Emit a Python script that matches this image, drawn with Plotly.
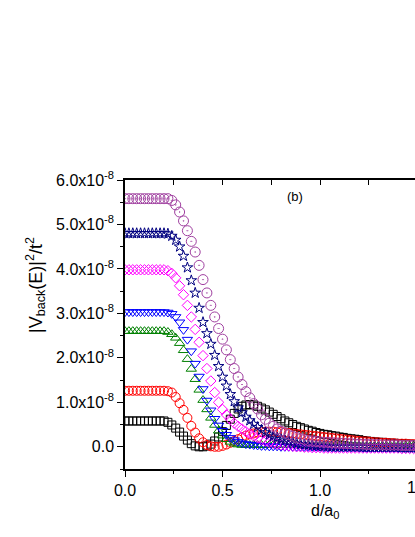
import numpy as np
import plotly.graph_objects as go

# d/a0 grid (step 0.02)
d_a0 = np.round(np.arange(0, 1.5001, 0.02), 2)

# |V_back(E)|^2/t^2 values, in units of 1e-8
black_sq = [0.58, 0.58, 0.58, 0.58, 0.58, 0.58, 0.58, 0.58, 0.58, 0.58, 0.58,
            0.55, 0.49, 0.42, 0.33, 0.24, 0.15, 0.07, 0.02, 0.00, 0.00,
            0.02, 0.06, 0.13, 0.22, 0.34, 0.48, 0.62, 0.75, 0.85, 0.91,
            0.94, 0.95, 0.94, 0.91, 0.87, 0.83, 0.78, 0.73, 0.68, 0.63,
            0.58, 0.54, 0.50, 0.46, 0.43, 0.40, 0.37, 0.35, 0.32, 0.30,
            0.28, 0.27, 0.25, 0.24, 0.22, 0.21, 0.19, 0.18, 0.17, 0.16,
            0.14, 0.13, 0.12, 0.11, 0.10, 0.10, 0.09, 0.08, 0.08, 0.07,
            0.07, 0.06, 0.06, 0.05, 0.05]
red_circ = [1.26, 1.26, 1.26, 1.26, 1.26, 1.26, 1.26, 1.26, 1.26, 1.26, 1.26,
            1.25, 1.22, 1.12, 0.98, 0.83, 0.65, 0.47, 0.32, 0.19, 0.10,
            0.04, 0.01, 0.00, 0.00, 0.02, 0.05, 0.09, 0.13, 0.17, 0.21,
            0.25, 0.28, 0.30, 0.32, 0.33, 0.34, 0.34, 0.34, 0.33, 0.33,
            0.32, 0.31, 0.30, 0.29, 0.28, 0.27, 0.26, 0.25, 0.24, 0.23,
            0.22, 0.21, 0.20, 0.19, 0.18, 0.17, 0.16, 0.15, 0.14, 0.13,
            0.12, 0.12, 0.11, 0.10, 0.10, 0.09, 0.09, 0.08, 0.08, 0.07,
            0.07, 0.07, 0.06, 0.06, 0.06]
green_tri = [2.60, 2.60, 2.60, 2.60, 2.60, 2.60, 2.60, 2.60, 2.60, 2.60, 2.60,
             2.58, 2.53, 2.45, 2.33, 2.17, 1.97, 1.75, 1.52, 1.28, 1.05,
             0.84, 0.65, 0.49, 0.36, 0.25, 0.17, 0.11, 0.07, 0.05, 0.04,
             0.04, 0.04, 0.04, 0.04, 0.04, 0.04, 0.04, 0.04, 0.04, 0.04,
             0.04, 0.04, 0.04, 0.04, 0.03, 0.03, 0.03, 0.03, 0.03, 0.03,
             0.03, 0.03, 0.03, 0.03, 0.03, 0.03, 0.03, 0.03, 0.03, 0.03,
             0.02, 0.02, 0.02, 0.02, 0.02, 0.02, 0.02, 0.02, 0.02, 0.02,
             0.02, 0.02, 0.02, 0.02, 0.02]
blue_tri = [3.03, 3.03, 3.03, 3.03, 3.03, 3.03, 3.03, 3.03, 3.03, 3.03, 3.03,
            3.02, 2.99, 2.92, 2.80, 2.63, 2.41, 2.15, 1.87, 1.58, 1.30,
            1.04, 0.82, 0.63, 0.48, 0.36, 0.27, 0.20, 0.15, 0.11, 0.08,
            0.06, 0.05, 0.04, 0.03, 0.02, 0.02, 0.01, 0.01, 0.01, 0.00,
            0.00, 0.00, 0.00, 0.00, 0.00, 0.00, 0.00, 0.00, 0.00, 0.00,
            -0.01, -0.01, -0.01, -0.01, -0.01, -0.01, -0.01, -0.01, -0.01, -0.01,
            -0.02, -0.02, -0.02, -0.02, -0.02, -0.02, -0.02, -0.02, -0.02, -0.02,
            -0.02, -0.02, -0.02, -0.02, -0.02]
magenta_dia = [3.98, 3.98, 3.98, 3.98, 3.98, 3.98, 3.98, 3.98, 3.98, 3.98, 3.98,
               3.96, 3.90, 3.80, 3.62, 3.42, 3.18, 2.92, 2.64, 2.35, 2.05,
               1.76, 1.48, 1.22, 1.00, 0.84, 0.72, 0.62, 0.53, 0.46, 0.40,
               0.34, 0.29, 0.24, 0.20, 0.16, 0.13, 0.10, 0.08, 0.06, 0.04,
               0.03, 0.02, 0.01, 0.00, 0.00, -0.01, -0.01, -0.02, -0.02, -0.02,
               -0.03, -0.03, -0.03, -0.03, -0.03, -0.03, -0.03, -0.03, -0.03, -0.03,
               -0.03, -0.03, -0.03, -0.03, -0.03, -0.03, -0.03, -0.03, -0.03, -0.03,
               -0.04, -0.04, -0.04, -0.04, -0.04]
navy_star = [4.80, 4.80, 4.80, 4.80, 4.80, 4.80, 4.80, 4.80, 4.80, 4.80, 4.80,
             4.79, 4.74, 4.65, 4.50, 4.29, 4.03, 3.74, 3.46, 3.12, 2.80,
             2.55, 2.31, 2.06, 1.81, 1.57, 1.37, 1.18, 1.02, 0.88, 0.77,
             0.67, 0.59, 0.51, 0.44, 0.38, 0.32, 0.27, 0.23, 0.20, 0.17,
             0.14, 0.12, 0.10, 0.08, 0.06, 0.05, 0.04, 0.03, 0.02, 0.02,
             0.01, 0.01, 0.00, 0.00, 0.00, 0.00, 0.00, 0.00, 0.00, 0.00,
             -0.01, -0.01, -0.01, -0.01, -0.01, -0.01, -0.01, -0.01, -0.01, -0.01,
             -0.02, -0.02, -0.02, -0.02, -0.02]
purple_circ = [5.58, 5.58, 5.58, 5.58, 5.58, 5.58, 5.58, 5.58, 5.58, 5.58, 5.58,
               5.58, 5.54, 5.44, 5.28, 5.08, 4.86, 4.62, 4.38, 4.08, 3.76,
               3.46, 3.18, 2.92, 2.66, 2.42, 2.18, 1.96, 1.76, 1.57, 1.40,
               1.24, 1.10, 0.97, 0.85, 0.72, 0.62, 0.53, 0.46, 0.40, 0.35,
               0.31, 0.27, 0.24, 0.21, 0.18, 0.16, 0.14, 0.13, 0.12, 0.11,
               0.10, 0.10, 0.09, 0.09, 0.08, 0.08, 0.07, 0.07, 0.06, 0.06,
               0.06, 0.05, 0.05, 0.05, 0.05, 0.04, 0.04, 0.04, 0.04, 0.04,
               0.03, 0.03, 0.03, 0.03, 0.03]

y_ticks = [0, 1, 2, 3, 4, 5, 6]
y_tick_text = ["0.0", "1.0x10<sup>-8</sup>", "2.0x10<sup>-8</sup>", "3.0x10<sup>-8</sup>",
               "4.0x10<sup>-8</sup>", "5.0x10<sup>-8</sup>", "6.0x10<sup>-8</sup>"]
x_ticks = [0, 0.5, 1.0]
x_tick_text = ["0.0", "0.5", "1.0"]

series = [
    (black_sq, "square-open", "#000000", 8),
    (red_circ, "circle-open", "#FF0000", 9),
    (green_tri, "triangle-up-open", "#008000", 9),
    (blue_tri, "triangle-down-open", "#0000FF", 9),
    (magenta_dia, "diamond-open", "#FF00FF", 8),
    (navy_star, "star-open", "#000080", 8),
    (purple_circ, "circle-open-dot", "#A040A0", 10),
]

FONT = "Liberation Sans, Arial, sans-serif"

fig = go.Figure()
for vals, sym, col, sz in series:
    fig.add_trace(go.Scatter(
        x=d_a0, y=np.array(vals) * 1e-8, mode="markers",
        marker=dict(symbol=sym, size=sz, color=col, line=dict(width=1, color=col)),
        showlegend=False, cliponaxis=True,
    ))

# the frame runs off the right edge of the picture (cropped figure)
PLOT_W = 290
x_max = PLOT_W / 195.0
fig.update_layout(
    width=415, height=537,
    margin=dict(l=125, r=0, t=180, b=68),
    paper_bgcolor="white", plot_bgcolor="white",
    font=dict(family=FONT, size=16, color="black"),
    xaxis=dict(range=[0, x_max], tickvals=x_ticks, ticktext=x_tick_text,
               ticks="outside", ticklen=6, tickwidth=1.2, tickcolor="black",
               minor=dict(tickvals=[0.25, 0.75, 1.25], ticks="outside", ticklen=3.5, tickcolor="black"),
               showline=True, linecolor="black", linewidth=1.5, showgrid=False, zeroline=False,
               tickfont=dict(size=16), automargin=False),
    xaxis2=dict(range=[0, x_max], overlaying="x", side="top", anchor="y",
                tickvals=[0.25, 0.5, 0.75, 1.0, 1.25], ticks="inside", ticklen=5, tickwidth=1.2,
                tickcolor="black", showticklabels=False, showline=True, linecolor="black",
                linewidth=1.5, showgrid=False, zeroline=False),
    yaxis=dict(range=[-0.5e-8, 6.0e-8], tickvals=[v * 1e-8 for v in y_ticks], ticktext=y_tick_text,
               ticks="outside", ticklen=6, tickwidth=1.2, tickcolor="black",
               minor=dict(tickvals=[v * 1e-8 for v in [-0.5, 0.5, 1.5, 2.5, 3.5, 4.5, 5.5]],
                          ticks="outside", ticklen=3.5, tickcolor="black"),
               showline=True, linecolor="black", linewidth=1.5, showgrid=False, zeroline=False,
               tickfont=dict(size=16), automargin=False),
)
# dummy trace so the top axis is drawn
fig.add_trace(go.Scatter(x=[None], y=[None], xaxis="x2", showlegend=False))

fig.add_annotation(text="|V<sub>back</sub>(E)|<sup>2</sup>/t<sup>2</sup>", textangle=-90,
                   xref="paper", yref="paper", x=(35 - 125) / PLOT_W, y=(469 - 285) / 289,
                   xanchor="center", yanchor="middle", showarrow=False, font=dict(size=18))
fig.add_annotation(text="d/a<sub>0</sub>", xref="x", yref="paper", x=1.026, y=(469 - 511) / 289,
                   xanchor="center", yanchor="middle", showarrow=False, font=dict(size=16))
# the 1.5 tick label is cut by the right edge, as in the cropped original
fig.add_annotation(text="1.5", xref="paper", yref="paper", x=1.5 / x_max, y=(469 - 488) / 289,
                   xanchor="center", yanchor="middle", showarrow=False, font=dict(size=16))
fig.add_annotation(text="(b)", xref="x", yref="paper", x=0.872, y=(469 - 196) / 289,
                   xanchor="center", yanchor="middle", showarrow=False, font=dict(size=13))

fig.write_html("out.html", config={"displayModeBar": False},
               post_script="document.body.style.margin='0';document.body.style.overflow='hidden';")
